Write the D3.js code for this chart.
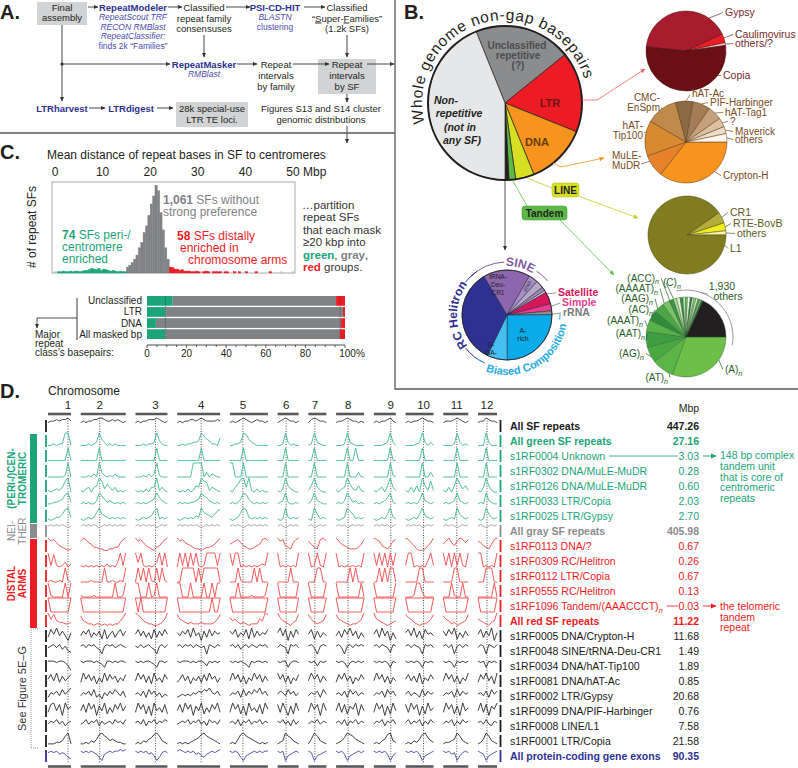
<!DOCTYPE html>
<html>
<head>
<meta charset="utf-8">
<script src="https://cdn.jsdelivr.net/npm/d3@7/dist/d3.min.js"></script>
<style>
html,body{margin:0;padding:0;background:#fff;}
svg{display:block;font-family:"Liberation Sans",Arial,Helvetica,sans-serif;}
</style>
</head>
<body>
<svg id="chart" width="798" height="768"></svg>
<script>
// ================= DATA =================
// Panel B: whole-genome non-gap basepairs (percent)
const mainCats=["Unclassified repetitive","LTR","DNA","LINE","Tandem","Other","Non-repetitive"];
const mainPct=[20.3,16.9,12.8,3.9,1.4,0.8,43.9];
const ltrCats=["Gypsy","Caulimovirus","others/?","Copia"];
const ltrPct=[41.4,3.6,1.1,53.9];
const dnaCats=["Crypton-H","MuLE-MuDR","hAT-Tip100","CMC-EnSpm","hAT-Ac","PIF-Harbinger","hAT-Tag1","?","Maverick","others"];
const dnaPct=[35.6,8.9,13.9,12.5,6.9,6.9,5.6,3.6,2.8,3.3];
const lineCats=["CR1","RTE-BovB","others","L1"];
const linePct=[4.7,3.3,1.7,90.3];
const otherCats=["tRNA-Deu-CR1","tRNA","SINE a","SINE b","SINE c","Satellite","Simple","rRNA","A-rich","G-GA-","RC Helitron"];
const otherPct=[16.9,3.3,2.8,1.4,0.8,4.4,2.5,1.4,25.0,7.2,34.2];
const tandemCats=["(A)n","(AT)n","(AG)n","(AAT)n","(AAAT)n","(AC)n","(AAG)n","(AAAAT)n","(ACC)n","(C)n",
  "m1","m2","m3","m4","m5","m6","m7","m8","m9","m10","m11","m12","1,930 others"];
const tandemPct=[30.6,8.9,6.4,6.4,4.7,4.2,4.2,2.8,1.7,1.4,
  1.4,1.1,1.1,0.8,1.1,0.8,0.8,0.8,0.8,0.8,0.6,0.6,18.1];

// Panel C: histogram of mean distance (Mbp) to centromeres, 0.5 Mbp bins
const binWidthMbp=0.5;
const greenStartMbp=0;
const greenCounts=[0,1,1,2,1,1,2,1,2,2,1,2,3,3,4,6,5,4,6,3,5,4,3,2,3,2,1,2,1,1];
const grayStartMbp=15;
const grayCounts=[8,11,15,20,26,37,45,60,70,86,103,115,131,123,90,64,37,20];
const redStartMbp=24;
const redCounts=[8,7,5,5,3,4,2,2,2,1,1,2,1,0,1,2,1,0,1,1,1,1,0,1,1,0,0,1,0,1,0,0,1,0,0,0,1,0,0,0,0,0,1,0,0,0,0,0,0,0,0,0];
const mbpTicks=[0,10,20,30,40,50];
// Panel C: class basepair partition (percent)
const classLabels=["Unclassified","LTR","DNA","All masked bp"];
const classGreen=[13,9.3,4.5,9.3];
const classGray=[82.5,89.7,93.5,88.2];
const classRed=[4.5,1.0,2.0,2.5];
const pctTicks=[0,20,40,60,80,100];

// Panel D: chromosomes
const chromNames=["1","2","3","4","5","6","7","8","9","10","11","12"];
const chromLenMbp=[46,90,64,86,76,42,36,56,44,56,50,38];
const centromereMbp=[40,38,40,48,26,17,13,24,34,36,27,18];
const rowLabels=["All SF repeats","All green SF repeats","s1RF0004 Unknown","s1RF0302 DNA/MuLE-MuDR","s1RF0126 DNA/MuLE-MuDR",
 "s1RF0033 LTR/Copia","s1RF0025 LTR/Gypsy","All gray SF repeats","s1RF0113 DNA/?","s1RF0309 RC/Helitron","s1RF0112 LTR/Copia",
 "s1RF0555 RC/Helitron","s1RF1096 Tandem/(AAACCCT)n","All red SF repeats","s1RF0005 DNA/Crypton-H","s1RF0048 SINE/tRNA-Deu-CR1",
 "s1RF0034 DNA/hAT-Tip100","s1RF0081 DNA/hAT-Ac","s1RF0002 LTR/Gypsy","s1RF0099 DNA/PIF-Harbinger","s1RF0008 LINE/L1",
 "s1RF0001 LTR/Copia","All protein-coding gene exons"];
const rowMbp=[447.26,27.16,3.03,0.28,0.60,2.03,2.70,405.98,0.67,0.26,0.67,0.13,0.03,11.22,11.68,1.49,1.89,0.85,20.68,0.76,7.58,21.58,90.35];
const rowGroup=["all","green","green","green","green","green","green","gray","red","red","red","red","red","red",
 "black","black","black","black","black","black","black","black","exon"];
// density profiles along each chromosome (0-9 relative level), chromosomes separated by spaces
const rowProfiles=[
"677878897 676778899877878767 6767788898767 67677887898777787 676789876787767 678987767 6898776 67789877676 676778976 67677898776 6777898767 67798776",
"112122991 111212395312121111 1112122394211 11212233497542216 112239853211111 112931211 1293211 11129321111 111123931 11112393131 1111293121 11193111",
"111111191 111111191111111111 1111111191111 11111111191111111 111119111111111 111911111 1191111 11119119111 111111911 11111191111 1111191111 11191111",
"000000190 000102093101020000 0001020291000 00000099990302100 990009000000000 000900000 0090000 00009000300 000000910 00000090030 0000090000 00090000",
"101213790 102303497253130101 1010203391310 10102014397613210 103589391020100 102942100 1493100 10239521410 102304931 10304094171 1030495241 10394100",
"223345893 232322497534323232 2323234596432 23232334597643232 232359853232323 234932232 2494322 23249634232 232346932 23232494323 2323494323 23294322",
"212335893 212323695432323232 2123234792323 21232324396543578 212369832323232 212932323 2195232 21239752323 212325932 21232594323 2123295323 21295323",
"787878767 787878767878787878 7878787867878 78787878767878787 787876787878787 787678787 7867878 78786787878 787878678 78787867878 7878767878 78767878",
"978643212 798653322112233689 9786432134689 97865432212334579 567864322345897 978432689 7532897 97543222358 987432478 98642112469 5796479868 76432589",
"918101302 101010101020103919 9391010139190 09190919101999919 919901010101219 901010109 9019109 90101010109 919190919 19901010491 9190919109 99010109",
"010010910 000010000900100109 0919091090910 00999990909999990 000910000909000 000009000 0009900 00000909000 009090990 00000990000 0000990000 00099900",
"910000909 100001000000090019 9900090190000 99000900009009099 000900001000019 900000009 9000009 90000000090 900000009 00019930000 0009100900 00000090",
"900000009 900000000000000009 9090000000009 90000000000009009 900000000000009 900000009 9000009 90000000009 900000009 90000000009 9000000009 90000009",
"958433223 743221221212122469 9864322112359 85432322232222358 645323212225498 964321348 8532348 85432122359 954321234 86532122358 7542312348 54321349",
"385947416 475836472825736847 5847362837485 64758394617384756 758364829374658 694817385 5827364 47385947263 583947162 68493728564 7485926374 58374916",
"678685743 786878652787867876 7686786527868 78687868767287687 786857868768786 687628786 7862787 78627868787 786876387 78687628786 7868278687 68728768",
"777677641 767776765377676776 7676776537767 76777676776476767 767676537677676 767736776 7674767 76763676767 767676376 76767637676 7676376767 76737676",
"584937468 395847263948573648 4958372946385 35847264738495736 495837264958374 958372648 4958374 38594726485 495837264 58473926485 4958372649 38594729",
"365748579 465748352647586473 5647385746354 34545465768796574 465738475869574 576485746 4657385 56473857465 465738574 57465384756 4657384756 56473857",
"389481957 483958174926385947 3958271946382 48395817492638593 395827194638295 839517294 3958194 49382759184 395817294 83958172946 3958271946 49381759",
"576857467 568576847567586758 6758476857687 56768576857486758 675847685768576 768574857 5768576 67584768576 576847685 68576847586 5768475867 67585476",
"222334792 223243589764543322 2324356897432 23232345689765432 232589765432323 234976432 2597432 23469875432 232458943 23243589643 2334597432 23597432",
"676756532 767676531567677878 7676756413676 78767675643567678 767631456767677 767145676 7614567 76751456767 767675146 76767514567 7675614676 76514567"
];

// ================= DRAWING =================
const svg=d3.select("#chart");
const defs=svg.append("defs");
const rad=d=>d*Math.PI/180;
const pt=(cx,cy,r,deg)=>[cx+r*Math.sin(rad(deg)),cy-r*Math.cos(rad(deg))];
function mk(id,color,size){
  defs.append("marker").attr("id",id).attr("viewBox","0 0 10 10").attr("refX",9).attr("refY",5)
   .attr("markerWidth",size||5).attr("markerHeight",size||5).attr("orient","auto").attr("markerUnits","userSpaceOnUse")
   .append("path").attr("d","M0,0.5L10,5L0,9.5Z").attr("fill",color);
}
mk("aK","#333");mk("aR","#f26363");mk("aO","#f7941d");mk("aY","#c4cb2a");mk("aG","#62bb46");
mk("aGr","#1ba579",6);mk("aRd","#ed1c24",6);
function T(g,s,x,y,o){o=o||{};
  const t=g.append("text").attr("x",x).attr("y",y).attr("font-size",o.size||10)
    .attr("fill",o.fill||"#231f20").attr("text-anchor",o.anchor||"middle");
  if(o.weight)t.attr("font-weight",o.weight);
  if(o.italic)t.attr("font-style","italic");
  if(o.rotate!==undefined)t.attr("transform",`rotate(${o.rotate},${x},${y})`);
  if(s!==null&&s!==undefined)t.text(s);
  return t;}
function TS(g,parts,x,y,o){const t=T(g,null,x,y,o);
  parts.forEach(p=>{const s=t.append("tspan").text(p[0]);const q=p[1]||{};
    if(q.weight)s.attr("font-weight",q.weight);if(q.fill)s.attr("fill",q.fill);
    if(q.underline)s.attr("text-decoration","underline");
    if(q.sub)s.attr("dy",2.5).attr("font-size",(o&&o.size?o.size:10)*0.7).attr("font-style","italic");});
  return t;}
function seg(g,pts,color,w,m,dash){const p=g.append("path").attr("d",d3.line()(pts)).attr("fill","none")
  .attr("stroke",color).attr("stroke-width",w||1);if(m)p.attr("marker-end",`url(#${m})`);if(dash)p.attr("stroke-dasharray",dash);return p;}
function subLabel(g,label,x,y,o){
  if(/\)n$/.test(label)) return TS(g,[[label.slice(0,-1)],["n",{sub:1}]],x,y,o);
  return T(g,label,x,y,o);}
function drawPie(g,cx,cy,r,vals,cols,startDeg,stroke,sw){
  const pie=d3.pie().sort(null).value(d=>d).startAngle(rad(startDeg)).endAngle(rad(startDeg+360));
  const arc=d3.arc().innerRadius(0).outerRadius(r);
  const gg=g.append("g").attr("transform",`translate(${cx},${cy})`);
  const arcs=pie(vals);
  gg.selectAll("path").data(arcs).join("path").attr("d",arc).attr("fill",(d,i)=>cols[i])
    .attr("stroke",stroke).attr("stroke-width",sw).attr("stroke-linejoin","round");
  return arcs;}
const arcD=(cx,cy,r,a0,a1,cw)=>{const p0=pt(cx,cy,r,a0),p1=pt(cx,cy,r,a1);
  const large=Math.abs(a1-a0)>180?1:0;return `M${p0[0]},${p0[1]}A${r},${r} 0 ${large} ${cw?1:0} ${p1[0]},${p1[1]}`;};
function arcLine(g,C,r,a0,a1,color){g.append("path").attr("d",arcD(C[0],C[1],r,a0,a1,true)).attr("fill","none").attr("stroke",color).attr("stroke-width",1);}

// ---------- Panel A ----------
const gA=svg.append("g");
T(gA,"A.",0,19,{size:20,weight:"bold",anchor:"start"});
const boxFill="#d1d3d4";
[[37,2,50,23],[318,59,58,35],[176,102,72,25]].forEach(b=>gA.append("rect").attr("x",b[0]).attr("y",b[1]).attr("width",b[2]).attr("height",b[3]).attr("fill",boxFill));
const blue="#2e3192",blueI="#4b4bb3",fA=9.5,fI=8.5;
T(gA,"Final",62,10.5,{size:fA});T(gA,"assembly",62,21,{size:fA});
T(gA,"RepeatModeler",133,10.5,{size:fA,weight:"bold",fill:blue});
T(gA,"RepeatScout TRF",133,20,{size:fI,italic:1,fill:blueI});
T(gA,"RECON RMBlast",133,29.5,{size:fI,italic:1,fill:blueI});
T(gA,"RepeatClassifier:",133,39,{size:fI,italic:1,fill:blueI});
T(gA,"finds 2k “Families”",133,48.5,{size:fI,fill:blueI});
T(gA,"Classified",204,10.5,{size:fA});T(gA,"repeat family",204,21.5,{size:fA});T(gA,"consensuses",204,32,{size:fA});
T(gA,"PSI-CD-HIT",275,10.5,{size:fA,weight:"bold",fill:blue});
T(gA,"BLASTN",275,20,{size:fI,italic:1,fill:blueI});T(gA,"clustering",275,29.5,{size:fI,fill:blueI});
T(gA,"Classified",347,10.5,{size:fA});
TS(gA,[["“"],["S",{underline:1}],["uper-"],["F",{underline:1}],["amilies”"]],347,21.5,{size:fA});
T(gA,"(1.2k SFs)",347,32,{size:fA});
T(gA,"RepeatMasker",204,67.5,{size:fA,weight:"bold",fill:blue});
T(gA,"RMBlast",204,77,{size:fI,italic:1,fill:blueI});
T(gA,"Repeat",276,67.5,{size:fA});T(gA,"intervals",276,78.5,{size:fA});T(gA,"by family",276,89.5,{size:fA});
T(gA,"Repeat",347,67.5,{size:fA});T(gA,"intervals",347,78.5,{size:fA});T(gA,"by SF",347,89.5,{size:fA});
T(gA,"Figures S13 and S14 cluster",321,111.5,{size:fA});T(gA,"genomic distributions",321,123,{size:fA});
T(gA,"LTRharvest",62,111.5,{size:fA,weight:"bold",fill:blue});
T(gA,"LTRdigest",131,111.5,{size:fA,weight:"bold",fill:blue});
T(gA,"28k special-use",212,111.5,{size:fA});T(gA,"LTR TE loci.",212,123,{size:fA});
const lk="#333";
[[[88,7],[98,7]],[[168,7],[182,7]],[[226,7],[250,7]],[[304,7],[325,7]],[[204,35],[204,57]],[[347,35],[347,57]],
 [[62,64],[170,64]],[[237,64],[257,64]],[[293,64],[329,64]],[[367,64],[394,64]],[[62,25],[62,101]],
 [[89,108],[105,108]],[[157,108],[173,108]],[[347,94],[347,102]],[[347,126],[347,143]]].forEach(p=>seg(gA,p,lk,0.9,"aK"));
gA.append("circle").attr("cx",62).attr("cy",64).attr("r",1.6).attr("fill",lk);
seg(gA,[[0,133],[395,133]],"#58595b",1.3);
seg(gA,[[395,0],[395,389],[798,389]],"#58595b",1.3);

// ---------- Panel B ----------
const gB=svg.append("g");
T(gB,"B.",404,19,{size:20,weight:"bold",anchor:"start"});
const mainColors=["#8a8c8e","#ed1c24","#f7941d","#d7df23","#5cb947","#231f20","#e6e7e8"];
const MC=[505,103],MR=77;
drawPie(gB,MC[0],MC[1],MR,mainPct,mainColors,-22,"#231f20",0.7);
gB.append("circle").attr("cx",MC[0]).attr("cy",MC[1]).attr("r",MR).attr("fill","none").attr("stroke","#231f20").attr("stroke-width",2);
defs.append("path").attr("id","arcMain").attr("d",arcD(MC[0],MC[1],83,-104,73,true));
gB.append("text").attr("font-size",15.5).attr("fill","#231f20").append("textPath").attr("href","#arcMain")
  .attr("textLength",(177/360)*2*Math.PI*83).attr("lengthAdjust","spacing").text("Whole genome non-gap basepairs");
const cUn="#4d4d4f";
T(gB,"Unclassified",517,49,{size:10,weight:"bold",fill:cUn});T(gB,"repetitive",518,59,{size:10,weight:"bold",fill:cUn});T(gB,"(?)",518,69,{size:10,weight:"bold",fill:cUn});
[["Non-",446,104],["repetitive",459,117],["(not in",460,131],["any SF)",462,144]].forEach(d=>T(gB,d[0],d[1],d[2],{size:10.5,weight:"bold",italic:1}));
T(gB,"LTR",550,107,{size:11,weight:"bold",fill:"#6d1416"});
T(gB,"DNA",537,146,{size:11,weight:"bold",fill:"#6b3a10"});
seg(gB,[[582,100],[597,100],[645,69]],"#f26363",0.8,"aR");
seg(gB,[[553,163],[561,167],[604,158]],"#f7941d",0.8,"aO");
seg(gB,[[527,178],[552,188]],"#c4cb2a",0.8);
seg(gB,[[578,196],[638,218]],"#c4cb2a",0.8,"aY");
seg(gB,[[513,181],[527,206]],"#62bb46",0.8);
seg(gB,[[560,220],[614,275]],"#62bb46",0.8,"aG");
seg(gB,[[505,181],[505,250]],"#555",1,"aK");
gB.append("rect").attr("x",552).attr("y",183).attr("width",27).attr("height",14).attr("rx",3).attr("fill","#d7df23").attr("stroke","#b3b91e").attr("stroke-width",0.5);
T(gB,"LINE",565.5,194,{size:10,weight:"bold"});
gB.append("rect").attr("x",522).attr("y",206).attr("width",45).attr("height",14).attr("rx",3).attr("fill","#5cb947").attr("stroke","#3e9a33").attr("stroke-width",0.5);
T(gB,"Tandem",544.5,217,{size:10,weight:"bold"});

function labelSet(g,C,r,specs,cats,color,size){
  specs.forEach(s=>{
    const p=pt(C[0],C[1],r,s.deg);
    const end=s.end||[s.x+(s.anchor==="end"?2:-2),s.y-3.5];
    seg(g,[p,end],color,0.7);
    const lines=s.lines||[cats[s.i]];
    lines.forEach((ln,k)=>subLabel(g,ln,s.x,s.y+k*10,{size:size||10.5,fill:color,anchor:s.anchor||"start"}));
  });}
const LC=[686,51];
drawPie(gB,LC[0],LC[1],40,ltrPct,["#a81c2e","#ec1c24","#f9caca","#6a0f14"],-84,"#3a0a0a",0.5);
labelSet(gB,LC,40,[{i:0,deg:35,x:725,y:16},{i:1,deg:71,x:735,y:38},{i:2,deg:80,x:735,y:47},{i:3,deg:128,x:723,y:79}],ltrCats,"#7a2b2b");
const DC=[686,142];
drawPie(gB,DC[0],DC[1],41,dnaPct,["#f7941d","#e5822a","#d98a30","#c08a4a","#8b6a44","#a47d56","#c6a07c","#dcc0a0","#ecdcc8","#fbf5ee"],90,"#5a3a1a",0.5);
labelSet(gB,DC,41,[
 {i:0,deg:136,x:723,y:179},
 {i:1,deg:242,x:612,y:159,lines:["MuLE-","MuDR"],end:[641,164]},
 {i:2,deg:285,x:643,y:129,anchor:"end",lines:["hAT-","Tip100"],end:[644,133]},
 {i:3,deg:325,x:660,y:101,anchor:"end",lines:["CMC-","EnSpm"],end:[661,108]},
 {i:4,deg:0,x:692,y:97,end:[690,95]},
 {i:5,deg:22,x:710,y:106},{i:6,deg:45,x:725,y:116},{i:7,deg:62,x:730,y:125},
 {i:8,deg:73,x:735,y:135},{i:9,deg:84,x:735,y:143}],dnaCats,"#7b4a22",10);
const NC=[687,235];
drawPie(gB,NC[0],NC[1],39,linePct,["#b3ae3c","#f2ec1c","#f8f5b0","#807c1f"],55,"#4a4812",0.5);
labelSet(gB,NC,39,[{i:0,deg:63,x:730,y:216},{i:1,deg:78,x:733,y:227},{i:2,deg:87,x:737,y:237},{i:3,deg:105,x:730,y:252}],lineCats,"#5c5a1c");
// Other pie
const OC=[507,315],OR=45;
drawPie(gB,OC[0],OC[1],OR,otherPct,["#8d66ad","#a98dc7","#b6a8c9","#9a8cb0","#d4c9e2","#d6185b","#ec3c8f","#8f8f8f","#0aabe8","#45bff0","#2e3192"],329,"#1f1f3a",0.5);
gB.append("circle").attr("cx",OC[0]).attr("cy",OC[1]).attr("r",OR).attr("fill","none").attr("stroke","#231f20").attr("stroke-width",0.8);
[["tRNA-",279],["Deu-",287],["CR1",295]].forEach(d=>T(gB,d[0],498,d[1],{size:6.5,fill:"#222"}));
[["A-",333],["rich",340.5]].forEach(d=>T(gB,d[0],523,d[1],{size:7,fill:"#1a1a1a"}));
[["G-",347],["GA-",354.5]].forEach(d=>T(gB,d[0],491,d[1],{size:6.5,fill:"#1a1a1a"}));
T(gB,"tRNA",529,287,{size:5,fill:"#333",rotate:-62});
const cSine="#7c5ba6",cRC="#2e3192",cBias="#29abe2";
arcLine(gB,OC,53,-44,-3,cSine);arcLine(gB,OC,53,34,50,cSine);
defs.append("path").attr("id","arcSine").attr("d",arcD(OC[0],OC[1],49,-20,50,true));
gB.append("text").attr("font-size",12).attr("font-weight","bold").attr("fill",cSine).attr("text-anchor","middle")
  .append("textPath").attr("href","#arcSine").attr("startOffset","50%").text("SINE");
arcLine(gB,OC,53,205,231,cRC);arcLine(gB,OC,53,308,326,cRC);
defs.append("path").attr("id","arcRC").attr("d",arcD(OC[0],OC[1],50,225,315,true));
gB.append("text").attr("font-size",12).attr("font-weight","bold").attr("fill",cRC).attr("text-anchor","middle")
  .append("textPath").attr("href","#arcRC").attr("startOffset","50%").text("RC Helitron");
arcLine(gB,OC,53,206,213,cBias);arcLine(gB,OC,53,89,95,cBias);
defs.append("path").attr("id","arcBias").attr("d",arcD(OC[0],OC[1],60,210,90,false));
gB.append("text").attr("font-size",11).attr("font-weight","bold").attr("fill",cBias).attr("text-anchor","middle")
  .append("textPath").attr("href","#arcBias").attr("startOffset","50%").text("Biased Composition");
seg(gB,[pt(OC[0],OC[1],OR,62),[556,293]],"#555",0.6);
seg(gB,[pt(OC[0],OC[1],OR,79),[560,303]],"#555",0.6);
seg(gB,[pt(OC[0],OC[1],OR,89),[561,313]],"#555",0.6);
T(gB,"Satellite",558,296,{size:10.5,weight:"bold",fill:"#d4145a",anchor:"start"});
T(gB,"Simple",562,306,{size:10.5,weight:"bold",fill:"#e43f8f",anchor:"start"});
T(gB,"rRNA",563,316,{size:10.5,weight:"bold",fill:"#77787b",anchor:"start"});
// Tandem pie
const TC=[686,337],TR=40;
const tanColors=["#6cbf47","#5cb547","#4aa843","#3f9e41","#58b24a","#2f8b3a","#4ba645","#7cc266","#3a9640","#a8d69a",
 "#dff0d8","#3c8f3c","#bfe3b0","#6fbf5c","#ffffff","#2f7f35","#cfe9c4","#8ccf78","#eaf5e4","#4a9e46","#b5dca6","#2d6e30","#231f20"];
drawPie(gB,TC[0],TC[1],TR,tandemPct,tanColors,90,"#2a5a2a",0.4);
arcLine(gB,TC,47,-12,100,"#9a9a9a");
const cTan="#2b5e2b";
labelSet(gB,TC,TR,[
 {i:0,deg:125,x:725,y:373},{i:1,deg:205,x:668,y:381,anchor:"end"},{i:2,deg:240,x:644,y:357,anchor:"end"},
 {i:3,deg:265,x:645,y:337,anchor:"end"},{i:4,deg:285,x:643,y:324,anchor:"end"},{i:5,deg:300,x:653,y:313,anchor:"end"},
 {i:6,deg:315,x:653,y:302,anchor:"end"},{i:7,deg:327,x:658,y:292,anchor:"end"},{i:8,deg:336,x:659,y:281.5,anchor:"end"},
 {i:9,deg:342,x:663,y:286,end:[666,283]}],tandemCats,cTan,10);
seg(gB,[pt(TC[0],TC[1],47,18),[708,294]],"#777",0.6);
T(gB,"1,930",722,290,{size:10.5,fill:cTan});T(gB,"others",728,300,{size:10.5,fill:cTan});

// ---------- Panel C ----------
const gC=svg.append("g");
const cG="#1ba579",cGy="#808285",cR="#ed1c24";
T(gC,"C.",0,159,{size:20,weight:"bold",anchor:"start"});
T(gC,"Mean distance of repeat bases in SF to centromeres",47,159,{size:12,anchor:"start",fill:"#231f20"});
const xC=d3.scaleLinear().domain([0,50]).range([55,293]);
const yC=d3.scaleLinear().domain([0,134]).range([273,184]);
mbpTicks.forEach(t=>T(gC,String(t),xC(t),176,{size:12}));
T(gC,"Mbp",303,176,{size:12,anchor:"start"});
gC.append("rect").attr("x",52).attr("y",182).attr("width",243).attr("height",91).attr("fill","none").attr("stroke","#a7a9ac").attr("stroke-width",1);
d3.range(0,50.01,2.5).forEach(t=>seg(gC,[[xC(t),273],[xC(t),271]],"#a7a9ac",0.8));
[[greenStartMbp,greenCounts,cG],[grayStartMbp,grayCounts,cGy],[redStartMbp,redCounts,cR]].forEach(([s,counts,col])=>{
  gC.append("g").selectAll("rect").data(counts.map((c,i)=>({x0:s+i*binWidthMbp,c})).filter(d=>d.c>0)).join("rect")
   .attr("x",d=>xC(d.x0)).attr("width",d=>xC(d.x0+binWidthMbp)-xC(d.x0)).attr("y",d=>yC(d.c)-0.6)
   .attr("height",d=>yC(0)-yC(d.c)+0.6).attr("fill",col).attr("stroke",col).attr("stroke-width",0.4);
});
T(gC,"# of repeat SFs",36,227,{size:12,rotate:-90,fill:"#231f20"});
TS(gC,[["1,061",{weight:"bold"}],[" SFs without"]],163,204,{size:12,anchor:"start",fill:cGy});
T(gC,"strong preference",163,216,{size:12,anchor:"start",fill:cGy});
TS(gC,[["74",{weight:"bold"}],[" SFs peri-/"]],62,239,{size:12,anchor:"start",fill:cG});
T(gC,"centromere",62,251,{size:12,anchor:"start",fill:cG});
T(gC,"enriched",62,262.5,{size:12,anchor:"start",fill:cG});
TS(gC,[["58",{weight:"bold"}],[" SFs distally"]],177,240,{size:12,anchor:"start",fill:cR});
T(gC,"enriched in",180,252,{size:12,anchor:"start",fill:cR});
T(gC,"chromosome arms",188,264,{size:12,anchor:"start",fill:cR});
const fR=11.5;
T(gC,"…partition",302,209,{size:fR,anchor:"start",fill:"#333"});
T(gC,"repeat SFs",303,221,{size:fR,anchor:"start",fill:"#333"});
T(gC,"that each mask",303,233.5,{size:fR,anchor:"start",fill:"#333"});
T(gC,"≥20 kbp into",303,246,{size:fR,anchor:"start",fill:"#333"});
TS(gC,[["green",{weight:"bold",fill:cG}],[", "],["gray",{weight:"bold",fill:cGy}],[","]],303,258.5,{size:fR,anchor:"start",fill:"#333"});
TS(gC,[["red",{weight:"bold",fill:cR}],[" groups."]],303,271,{size:fR,anchor:"start",fill:"#333"});
const xP=d3.scaleLinear().domain([0,100]).range([147,345]);
const yP=d3.scaleBand().domain(classLabels).range([296,339]).paddingInner(0.12);
classLabels.forEach((c,i)=>{
  const segs=[[0,classGreen[i],cG],[classGreen[i],classGreen[i]+classGray[i],cGy],[classGreen[i]+classGray[i],classGreen[i]+classGray[i]+classRed[i],cR]];
  segs.forEach(s=>gC.append("rect").attr("x",xP(s[0])).attr("width",xP(s[1])-xP(s[0])).attr("y",yP(c)).attr("height",yP.bandwidth()).attr("fill",s[2]));
  T(gC,c,142,yP(c)+yP.bandwidth()/2+3.5,{size:10,anchor:"end",fill:"#231f20"});
});
const am=classLabels.length-1;
[classGreen[am],classGreen[am]+classGray[am]].forEach(v=>seg(gC,[[xP(v),296],[xP(v),339]],"#3a3a3a",0.6,null,"1.5,1"));
seg(gC,[[xP(0),345],[xP(100),345]],"#231f20",0.8);
d3.range(0,100.1,5).forEach(t=>seg(gC,[[xP(t),345],[xP(t),t%20===0?348:347]],"#231f20",0.7));
pctTicks.forEach(t=>T(gC,t===100?"100%":String(t),xP(t)+(t===100?7:0),357,{size:10}));
seg(gC,[[77,298],[77,340]],"#231f20",0.9);
seg(gC,[[77,318],[37,318],[37,328]],"#231f20",0.8,"aK");
T(gC,"Major",35,338,{size:10,anchor:"start"});
T(gC,"repeat",35,347,{size:10,anchor:"start"});
T(gC,"class’s basepairs:",35,356,{size:10,anchor:"start"});

// ---------- Panel D ----------
const gD=svg.append("g");
T(gD,"D.",0,398,{size:20,weight:"bold",anchor:"start"});
T(gD,"Chromosome",48,395,{size:12,anchor:"start"});
const gapMbp=19.5;
const chromStart=[];let acc=0;chromLenMbp.forEach((l,i)=>{chromStart.push(acc);acc+=l+gapMbp;});
const totalMbp=acc-gapMbp;
const xD=d3.scaleLinear().domain([0,totalMbp]).range([48,497]);
const row0=426,rowStep=15;
const rowY=i=>row0+i*rowStep;
chromNames.forEach((n,i)=>{
  const x0=xD(chromStart[i]),x1=xD(chromStart[i]+chromLenMbp[i]),xc=xD(chromStart[i]+centromereMbp[i]);
  T(gD,n,xc,409,{size:11.5});
  seg(gD,[[x0,414],[x1,414]],"#58595b",2.6);
  seg(gD,[[x0,766.5],[x1,766.5]],"#58595b",2.6);
  seg(gD,[[xc,418],[xc,763]],"#231f20",0.8,null,"1,1.6");
});
T(gD,"Mbp",689,412,{size:10.5});
const grpStyle={all:{line:"#3a3a3a",text:"#1a1a1a"},green:{line:"#3dbb8e",text:"#1ba579"},gray:{line:"#a0a0a0",text:"#8a8c8e"},
  red:{line:"#f04848",text:"#ed1c24"},black:{line:"#2b2b2b",text:"#1a1a1a"},exon:{line:"#4747ad",text:"#2e3192"}};
const lineGen=d3.line();
rowLabels.forEach((lab,r)=>{
  const c=rowY(r),st=grpStyle[rowGroup[r]];
  const yv=v=>c+6-v/9*14;
  const profs=rowProfiles[r].split(" ");
  profs.forEach((p,i)=>{
    const vals=p.split("").map(Number);const n=vals.length;
    const pts=vals.map((v,k)=>[xD(chromStart[i]+k/(n-1)*chromLenMbp[i]),yv(v)]);
    let d=lineGen(pts);if(r===12)d+="Z";
    gD.append("path").attr("d",d).attr("fill","none").attr("stroke",st.line).attr("stroke-width",0.9).attr("stroke-linejoin","round");
  });
  seg(gD,[[46,c-6],[46,c+6]],st.text,1.8);
  seg(gD,[[500.5,c-6],[500.5,c+6]],st.text,1.8);
  const bold=/^All /.test(lab);
  const t=subLabel(gD,lab,510,c+4,{size:10.5,anchor:"start",fill:st.text,weight:bold?"bold":null});
  T(gD,rowMbp[r].toFixed(2),699,c+4,{size:10.5,anchor:"end",fill:st.text,weight:bold?"bold":null});
  if(r===2||r===12){
    const x1=510+t.node().getComputedTextLength()+4;
    seg(gD,[[x1,c],[678,c]],st.text,0.8);
    seg(gD,[[703,c],[716,c]],st.text,0.9,r===2?"aGr":"aRd");
  }
});
[["148 bp complex",459],["tandem unit",470],["that is core of",480.5],["centromeric",491],["repeats",501.5]].forEach(d=>T(gD,d[0],720,d[1],{size:10.5,anchor:"start",fill:"#1ba579"}));
[["the telomeric",610],["tandem",620.5],["repeat",631]].forEach(d=>T(gD,d[0],720,d[1],{size:10.5,anchor:"start",fill:"#ed1c24"}));
const grpBars=[[1,6,"#1ba579"],[7,7,"#8a8c8e"],[8,13,"#ed1c24"]];
grpBars.forEach(b=>gD.append("rect").attr("x",30).attr("y",rowY(b[0])-7).attr("width",7).attr("height",rowY(b[1])-rowY(b[0])+14).attr("fill",b[2]));
const gmid=(a,b)=>(rowY(a)+rowY(b))/2;
T(gD,"(PERI-/)CEN-",14.5,gmid(1,6),{size:10,weight:"bold",fill:"#1ba579",rotate:-90});
T(gD,"TROMERIC",25.5,gmid(1,6),{size:10,weight:"bold",fill:"#1ba579",rotate:-90});
T(gD,"NEI-",14.5,gmid(7,7),{size:10,fill:"#8a8c8e",rotate:-90});
T(gD,"THER",25.5,gmid(7,7),{size:10,fill:"#8a8c8e",rotate:-90});
T(gD,"DISTAL",14.5,gmid(8,13),{size:10,weight:"bold",fill:"#ed1c24",rotate:-90});
T(gD,"ARMS",25.5,gmid(8,13),{size:10,weight:"bold",fill:"#ed1c24",rotate:-90});
seg(gD,[[38,rowY(14)-7],[31,rowY(14)-7],[31,rowY(21)+7],[38,rowY(21)+7]],"#808285",0.8,null,"1,1");
T(gD,"See Figure 5E–G",26,gmid(14,21),{size:11,fill:"#333",rotate:-90});
</script>
</body>
</html>
